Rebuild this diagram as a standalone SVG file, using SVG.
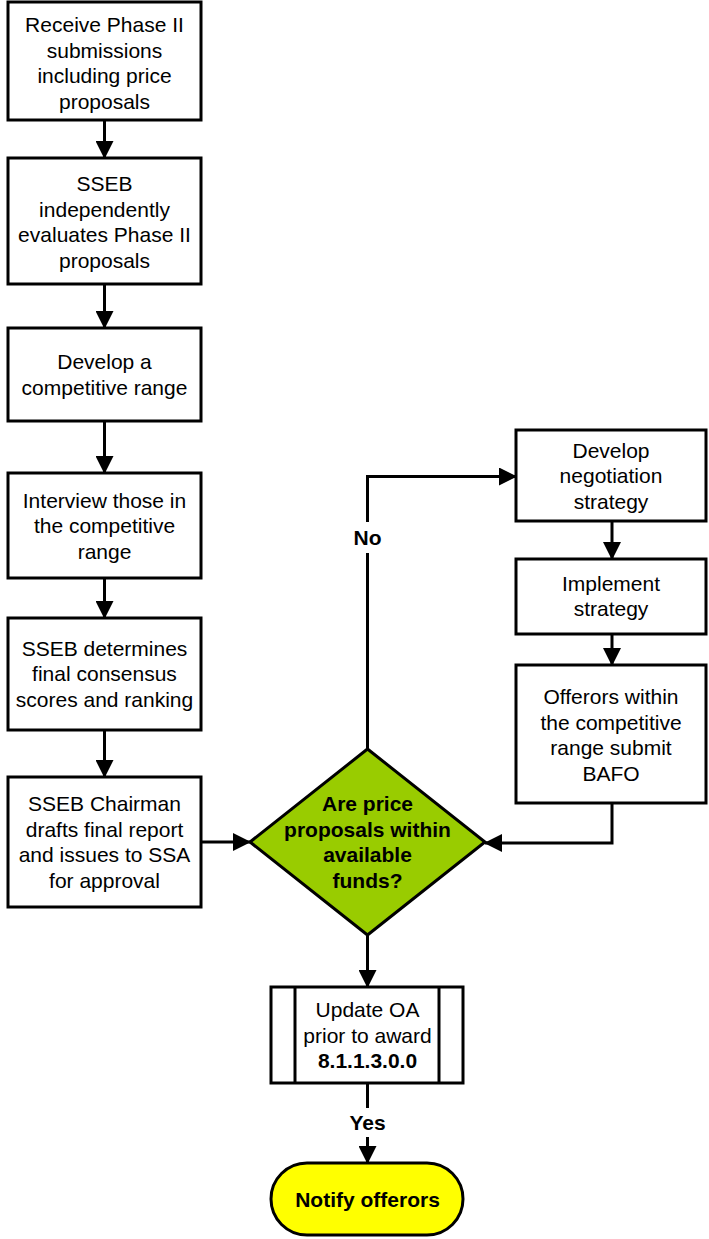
<svg xmlns="http://www.w3.org/2000/svg" width="709" height="1239" viewBox="0 0 709 1239">
<style>
.box{fill:#fff;stroke:#000;stroke-width:3}
.t{font-family:"Liberation Sans",Arial,sans-serif;font-size:21px;fill:#000;text-anchor:middle}
.b{font-weight:bold}
.ln{fill:none;stroke:#000;stroke-width:3}
</style>
<defs>
<marker id="ah" markerUnits="userSpaceOnUse" markerWidth="18" markerHeight="18" refX="17" refY="9" orient="auto" viewBox="0 0 18 18">
<path d="M0,0 L18,9 L0,18 z" fill="#000"/>
</marker>
</defs>
<g id="connectors">
<path class="ln" d="M104.5 120 V158" marker-end="url(#ah)"/>
<path class="ln" d="M104.5 284 V328" marker-end="url(#ah)"/>
<path class="ln" d="M104.5 421 V473" marker-end="url(#ah)"/>
<path class="ln" d="M104.5 578 V618" marker-end="url(#ah)"/>
<path class="ln" d="M104.5 730 V777" marker-end="url(#ah)"/>
<path class="ln" d="M201 842 H250" marker-end="url(#ah)"/>
<path class="ln" d="M367.5 749 V553"/>
<path class="ln" d="M367.5 522 V476.5 H516" marker-end="url(#ah)"/>
<path class="ln" d="M612 521 V559" marker-end="url(#ah)"/>
<path class="ln" d="M612 634 V665" marker-end="url(#ah)"/>
<path class="ln" d="M612 803 V843 H485" marker-end="url(#ah)"/>
<path class="ln" d="M367.5 935 V987" marker-end="url(#ah)"/>
<path class="ln" d="M367.5 1083 V1108"/>
<path class="ln" d="M367.5 1137 V1163" marker-end="url(#ah)"/>
<text class="t b" x="367.5" y="545">No</text>
<text class="t b" x="367.5" y="1130">Yes</text>
</g>
<g id="n1">
<rect class="box" x="8" y="2" width="193" height="118"/>
<text class="t" x="104.5" y="32">Receive Phase II</text>
<text class="t" x="104.5" y="57.5">submissions</text>
<text class="t" x="104.5" y="83">including price</text>
<text class="t" x="104.5" y="108.5">proposals</text>
</g>
<g id="n2">
<rect class="box" x="8" y="158" width="193" height="126"/>
<text class="t" x="104.5" y="191">SSEB</text>
<text class="t" x="104.5" y="216.5">independently</text>
<text class="t" x="104.5" y="242">evaluates Phase II</text>
<text class="t" x="104.5" y="267.5">proposals</text>
</g>
<g id="n3">
<rect class="box" x="8" y="328" width="193" height="93"/>
<text class="t" x="104.5" y="369">Develop a</text>
<text class="t" x="104.5" y="394.5">competitive range</text>
</g>
<g id="n4">
<rect class="box" x="8" y="473" width="193" height="105"/>
<text class="t" x="104.5" y="507.5">Interview those in</text>
<text class="t" x="104.5" y="533">the competitive</text>
<text class="t" x="104.5" y="558.5">range</text>
</g>
<g id="n5">
<rect class="box" x="8" y="618" width="193" height="112"/>
<text class="t" x="104.5" y="655.5">SSEB determines</text>
<text class="t" x="104.5" y="681">final consensus</text>
<text class="t" x="104.5" y="706.5">scores and ranking</text>
</g>
<g id="n6">
<rect class="box" x="8" y="777" width="193" height="130"/>
<text class="t" x="104.5" y="811">SSEB Chairman</text>
<text class="t" x="104.5" y="836.5">drafts final report</text>
<text class="t" x="104.5" y="862">and issues to SSA</text>
<text class="t" x="104.5" y="887.5">for approval</text>
</g>
<g id="decision">
<polygon points="367.5,749 485,842 367.5,935 250,842" fill="#99CC00" stroke="#000" stroke-width="3"/>
<text class="t b" x="367.5" y="811">Are price</text>
<text class="t b" x="367.5" y="836.5">proposals within</text>
<text class="t b" x="367.5" y="862">available</text>
<text class="t b" x="367.5" y="887.5">funds?</text>
</g>
<g id="r1">
<rect class="box" x="516" y="430" width="190" height="91"/>
<text class="t" x="611" y="457.5">Develop</text>
<text class="t" x="611" y="483">negotiation</text>
<text class="t" x="611" y="508.5">strategy</text>
</g>
<g id="r2">
<rect class="box" x="516" y="559" width="190" height="75"/>
<text class="t" x="611" y="590.5">Implement</text>
<text class="t" x="611" y="616">strategy</text>
</g>
<g id="r3">
<rect class="box" x="516" y="665" width="190" height="138"/>
<text class="t" x="611" y="704">Offerors within</text>
<text class="t" x="611" y="729.5">the competitive</text>
<text class="t" x="611" y="755">range submit</text>
<text class="t" x="611" y="780.5">BAFO</text>
</g>
<g id="subprocess">
<rect class="box" x="271" y="987" width="192" height="96"/>
<line class="ln" x1="295" y1="987" x2="295" y2="1083"/>
<line class="ln" x1="439" y1="987" x2="439" y2="1083"/>
<text class="t" x="367.5" y="1017">Update OA</text>
<text class="t" x="367.5" y="1042.5">prior to award</text>
<text class="t b" x="367.5" y="1068">8.1.1.3.0.0</text>
</g>
<g id="terminator">
<rect x="271" y="1163" width="192" height="72" rx="36" ry="36" fill="#FFFF00" stroke="#000" stroke-width="3"/>
<text class="t b" x="367.5" y="1206.5">Notify offerors</text>
</g>
</svg>
